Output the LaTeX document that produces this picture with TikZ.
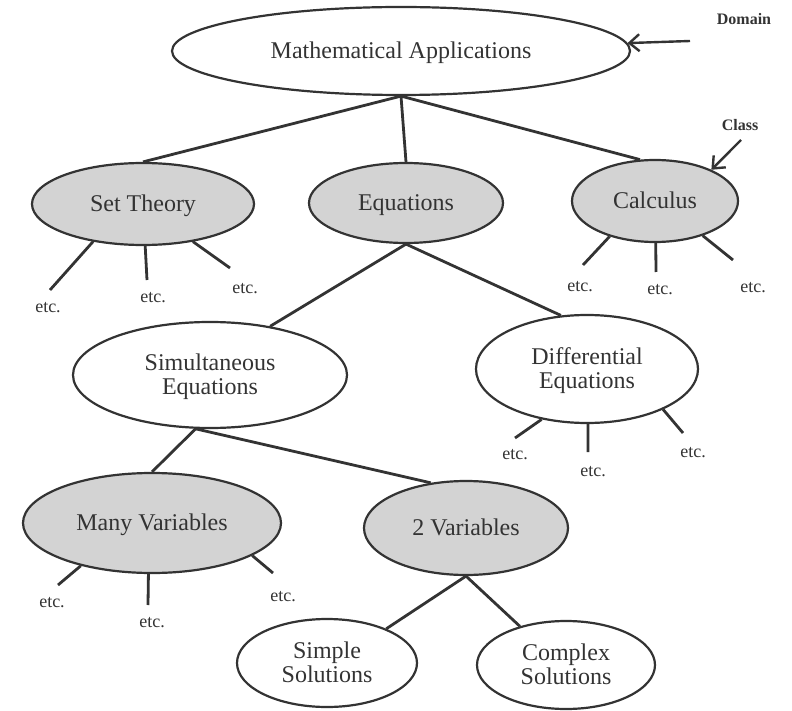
\documentclass[tikz,border=0pt]{standalone}
\usepackage{fontspec}
\setmainfont{Liberation Serif}
\usetikzlibrary{shapes.geometric,arrows.meta}
\definecolor{ink}{HTML}{333333}
\definecolor{shade}{HTML}{D3D3D3}
\begin{document}
\begin{tikzpicture}[x=1pt,y=-1pt,
  every node/.style={text=ink},
  oval/.style={ellipse, draw=ink, line width=2.2pt, inner sep=0pt, align=center,
    text depth=0.12em, font=\fontsize{24}{24}\selectfont},
  shaded/.style={oval, fill=shade},
  link/.style={draw=ink, line width=2.8pt},
  stub/.style={draw=ink, line width=2.8pt},
  etc/.style={font=\fontsize{18}{18}\selectfont},
  tag/.style={font=\fontsize{16}{16}\selectfont\bfseries},
  pointer/.style={draw=ink, line width=2.4pt, -{Straight Barb[length=10pt,width=17pt]}}
]
\useasboundingbox (0,0) rectangle (792,711);

% ---- the tree ----
\node[oval, minimum width=458, minimum height=88] (top) at (401,51) {Mathematical Applications};

\node[shaded, minimum width=222, minimum height=82] (set)  at (143,204) {Set Theory};
\node[shaded, minimum width=194, minimum height=80] (eq)   at (406,203) {Equations};
\node[shaded, minimum width=166, minimum height=82] (calc) at (655,201) {Calculus};

\node[oval, minimum width=274, minimum height=106] (sim)  at (210,375) {Simultaneous\\Equations};
\node[oval, minimum width=222, minimum height=108] (diff) at (587,369) {Differential\\Equations};

\node[shaded, minimum width=258, minimum height=100] (many) at (152,523) {Many Variables};
\node[shaded, minimum width=204, minimum height=94]  (two)  at (466,528) {2 Variables};

\node[oval, minimum width=180, minimum height=88] (simple)  at (327,663) {Simple\\Solutions};
\node[oval, minimum width=178, minimum height=88] (complex) at (566,665) {Complex\\Solutions};

% ---- connectors between the nodes ----
\draw[link] (top.south) -- (set.north);
\draw[link] (top.south) -- (eq.north);
\draw[link] (top.south) -- (calc.110);
\draw[link] (eq.south) -- (sim.39);
\draw[link] (eq.south) -- (diff.116);
\draw[link] (sim.-105) -- (many.north);
\draw[link] (sim.-105) -- (two.128);
\draw[link] (two.south) -- (simple.30);
\draw[link] (two.south) -- (complex.140);

% ---- open-ended branches ----
\coordinate (s1) at (50,290);  \node[etc] (es1) at (48,308)  {etc.};
\coordinate (s2) at (147,280); \node[etc] (es2) at (153,298) {etc.};
\coordinate (s3) at (230,268); \node[etc] (es3) at (245,289) {etc.};
\draw[stub] (set.-143) -- (s1);
\draw[stub] (set.-87)  -- (s2);
\draw[stub] (set.-37)  -- (s3);

\coordinate (c1) at (583,265); \node[etc] (ec1) at (580,287) {etc.};
\coordinate (c2) at (656,272); \node[etc] (ec2) at (660,290) {etc.};
\coordinate (c3) at (733,260); \node[etc] (ec3) at (753,288) {etc.};
\draw[stub] (calc.-142) -- (c1);
\draw[stub] (calc.-89)  -- (c2);
\draw[stub] (calc.-36)  -- (c3);

\coordinate (d1) at (515,438); \node[etc] (ed1) at (515,455) {etc.};
\coordinate (d2) at (588,452); \node[etc] (ed2) at (593,472) {etc.};
\coordinate (d3) at (683,433); \node[etc] (ed3) at (693,453) {etc.};
\draw[stub] (diff.-132) -- (d1);
\draw[stub] (diff.-89)  -- (d2);
\draw[stub] (diff.-28)  -- (d3);

\coordinate (m1) at (58,585);  \node[etc] (em1) at (52,603)  {etc.};
\coordinate (m2) at (148,605); \node[etc] (em2) at (152,623) {etc.};
\coordinate (m3) at (273,573); \node[etc] (em3) at (283,597) {etc.};
\draw[stub] (many.-149) -- (m1);
\draw[stub] (many.-94)  -- (m2);
\draw[stub] (many.-18)  -- (m3);

% ---- level labels ----
\node[tag] (dom) at (744,19) {Domain};
\coordinate (domtail) at (690,41);
\draw[pointer] (domtail) -- (top.2);

\node[tag] (cls) at (740,125) {Class};
\coordinate (clstail) at (741,140);
\draw[pointer] (clstail) -- (calc.29);
\end{tikzpicture}
\end{document}
